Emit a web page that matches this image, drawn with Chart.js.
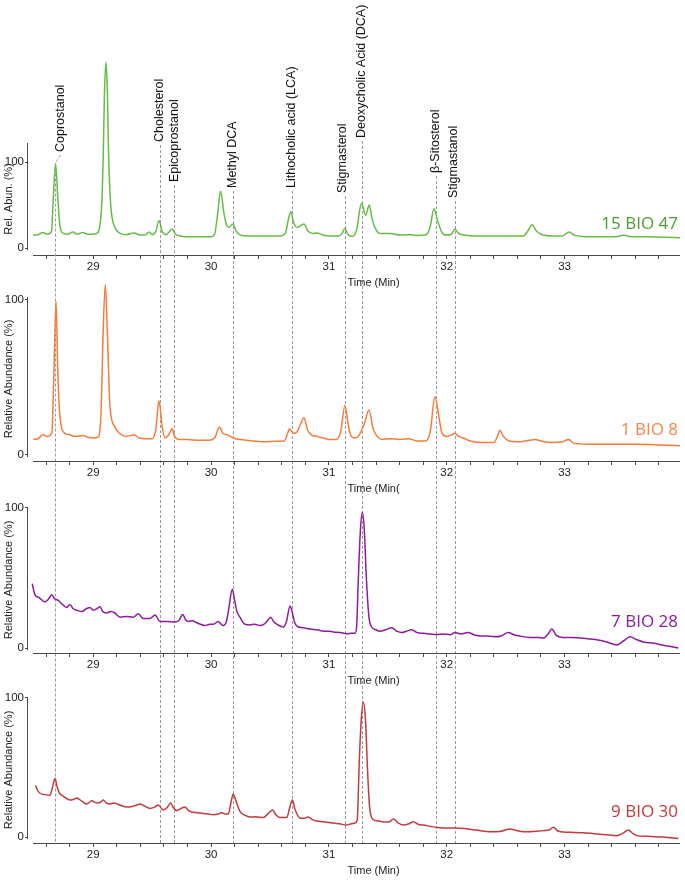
<!DOCTYPE html>
<html><head><meta charset="utf-8">
<script src="https://cdn.jsdelivr.net/npm/chart.js@4.4.0/dist/chart.umd.min.js"></script>
<style>
html,body{margin:0;padding:0;background:#fff;}
#wrap{position:relative;width:685px;height:881px;overflow:hidden;}
#wrap canvas{position:absolute;left:0;top:0;}
</style></head><body>
<div id="wrap">
<canvas id="c1" width="685" height="881"></canvas>
<canvas id="c2" width="685" height="881"></canvas>
<canvas id="c3" width="685" height="881"></canvas>
<canvas id="c4" width="685" height="881"></canvas>
</div>
<script>
// ---------------- DATA ----------------
const xTicks = [28.6,28.8,29.0,29.2,29.4,29.6,29.8,30.0,30.2,30.4,30.6,30.8,31.0,31.2,31.4,31.6,31.8,32.0,32.2,32.4,32.6,32.8,33.0,33.2,33.4,33.6,33.8];
const yTicks = [0, 100];
const compounds = ['Coprostanol','Cholesterol','Epicoprostanol','Methyl DCA','Lithocholic acid (LCA)','Stigmasterol','Deoxycholic Acid (DCA)','β-Sitosterol','Stigmastanol'];
const compoundTimes = [28.678, 29.566, 29.685, 30.186, 30.687, 31.137, 31.281, 31.909, 32.07];
const samples = ['15 BIO 47', '1 BIO 8', '7 BIO 28', '9 BIO 30'];
const yTitles = ['Rel. Abun. (%)', 'Relative Abundance (%)', 'Relative Abundance (%)', 'Relative Abundance (%)'];
const xTitles = ['Time (Min)', 'Time (Min(', 'Time (Min)', 'Time (Min)'];

const time1 = [28.49,28.53,28.573,28.61,28.645,28.66,28.68,28.7,28.715,28.735,28.78,28.828,28.86,28.912,28.95,29.0,29.04,29.06,29.075,29.085,29.095,29.108,29.12,29.13,29.145,29.16,29.18,29.2,29.23,29.28,29.345,29.4,29.44,29.473,29.5,29.53,29.558,29.585,29.62,29.668,29.7,29.74,29.8,29.9,30.0,30.03,30.056,30.08,30.11,30.13,30.15,30.186,30.21,30.25,30.32,30.4,30.5,30.58,30.63,30.66,30.678,30.7,30.73,30.788,30.82,30.86,30.9,30.95,31.0,31.08,31.112,31.136,31.16,31.2,31.24,31.262,31.278,31.312,31.343,31.365,31.39,31.434,31.52,31.6,31.68,31.75,31.82,31.86,31.892,31.92,31.96,32.0,32.04,32.07,32.1,32.15,32.25,32.4,32.55,32.65,32.69,32.724,32.76,32.8,32.9,32.98,33.038,33.08,33.15,33.3,33.45,33.5,33.55,33.7,33.85,33.98];
const abund1 = [15,15.5,18,16,19,56,98,56,28,18,16,18.5,16,18,16,16,18,30,60,110,180,216,180,110,56,35,25,20,17,15.5,17.5,15,15,18.5,15.5,19,32,19,15.5,22,16,14,13,13,13,16,40,66,40,27,24,28,20,15,14,14,14,14,17,36,42,30,24,28,20,17,17.5,15,14,14,17,23,16,13.5,24,45,52,38,50,35,24,17,17,15,15.5,14.5,15,25,46,33,18,15,16,22,17,15,14,14,14,14,20,27,20,16,14,14,18.5,15,13.5,13,13.5,15,13.5,13,12.5,12];

const time2 = [28.49,28.53,28.573,28.61,28.648,28.665,28.684,28.698,28.711,28.73,28.76,28.8,28.85,28.912,28.95,29.0,29.04,29.055,29.068,29.082,29.102,29.12,29.142,29.184,29.22,29.28,29.345,29.39,29.44,29.5,29.53,29.558,29.585,29.61,29.64,29.668,29.69,29.73,29.8,29.9,29.98,30.03,30.072,30.1,30.14,30.186,30.25,30.35,30.45,30.55,30.62,30.65,30.665,30.7,30.73,30.76,30.788,30.82,30.85,30.9,30.95,31.0,31.06,31.1,31.136,31.165,31.19,31.22,31.25,31.3,31.34,31.375,31.41,31.45,31.52,31.6,31.68,31.75,31.82,31.86,31.9,31.935,31.96,32.0,32.03,32.07,32.1,32.14,32.2,32.3,32.4,32.43,32.452,32.48,32.53,32.6,32.7,32.75,32.8,32.9,32.98,33.035,33.08,33.2,33.4,33.6,33.8,33.98];
const abund2 = [10,10.5,13,12,14,50,99,56,31,18,14,13,12,12.5,11.5,11,11.5,15,31,75,110,78,31,18,14,12,13,11,10.5,10.5,16,35,18,11,13,17,12,10,10,9.5,9.5,11,18,14,13,11,10,9,8.5,8.8,9,14,17,14,15,20,24,16,13,12,11,10,10,15,32,19,12,11,12,20,29,17,12,10,10.5,10,10.5,9,9,15,37.5,24,14,12,12.5,14,12,11,9,8,8,12,16,12,9,8.5,9.5,10,9,8,8.5,10,7.5,7,7,7,6.5,6];

const time3 = [28.482,28.495,28.505,28.54,28.59,28.62,28.647,28.675,28.703,28.74,28.774,28.802,28.83,28.86,28.902,28.94,28.972,29.0,29.029,29.057,29.08,29.114,29.15,29.184,29.227,29.28,29.34,29.382,29.424,29.481,29.524,29.566,29.62,29.694,29.73,29.759,29.785,29.807,29.84,29.878,29.91,29.948,29.99,30.02,30.061,30.085,30.104,30.13,30.15,30.18,30.2,30.22,30.245,30.288,30.33,30.37,30.415,30.45,30.474,30.506,30.53,30.557,30.59,30.613,30.64,30.67,30.69,30.71,30.74,30.78,30.84,30.9,30.96,31.0,31.038,31.1,31.165,31.179,31.222,31.235,31.25,31.268,31.284,31.3,31.318,31.34,31.363,31.4,31.434,31.48,31.533,31.575,31.618,31.66,31.703,31.75,31.801,31.86,31.915,31.97,32.028,32.07,32.12,32.183,32.23,32.283,32.35,32.424,32.47,32.523,32.57,32.62,32.707,32.78,32.82,32.86,32.891,32.93,32.99,33.06,33.16,33.26,33.358,33.443,33.5,33.556,33.61,33.669,33.75,33.839,33.9,33.966];
const abund3 = [46,41,38,36,33,35,38,35,34,31,29,31,28,27,26,28,29,27,28,29.5,26,25,26,25,22,22.5,22,24.5,21,21,23.5,19,19,18.5,20,24,20,19,19.5,18,17,16,17,17,19,17,16,19,28,42,34,26,22,17,16.5,17,16,17,19,22,19,17,15.5,15,19,30,25,18,15,14.5,13.5,13,12,12,11.5,11,10,10.5,10.5,15,50,85,97,85,50,22,15,13,12,13,14.5,12,11,12,13,11,10.5,10,9.5,10,9.5,11,10,11,9.5,8.5,8.5,8,9,11,9.5,8.5,7.5,7.5,7,10,13.5,9,7.5,7.5,7,6,4.3,2.2,5,8,6,4.3,3.5,2,1,0];

const time4 = [28.511,28.525,28.548,28.59,28.632,28.652,28.675,28.694,28.711,28.75,28.802,28.83,28.859,28.9,28.944,28.986,29.029,29.06,29.085,29.11,29.142,29.17,29.199,29.24,29.284,29.33,29.37,29.396,29.44,29.481,29.52,29.552,29.594,29.625,29.657,29.68,29.708,29.745,29.778,29.81,29.835,29.88,29.934,29.98,30.019,30.06,30.09,30.12,30.146,30.169,30.188,30.211,30.245,30.29,30.33,30.38,30.443,30.486,30.523,30.55,30.585,30.642,30.67,30.69,30.712,30.755,30.79,30.825,30.86,30.896,30.95,31.0,31.037,31.09,31.151,31.19,31.222,31.24,31.258,31.275,31.292,31.31,31.328,31.345,31.37,31.42,31.476,31.515,31.547,31.59,31.632,31.68,31.716,31.76,31.801,31.87,31.943,32.04,32.141,32.25,32.368,32.45,32.537,32.6,32.65,32.74,32.82,32.87,32.905,32.94,32.99,33.08,33.16,33.3,33.443,33.5,33.542,33.58,33.613,33.7,33.839,33.9,33.966];
const abund4 = [37,34,31.5,30.5,30,35,42,36,32,29,26.6,27,28,26,23.7,26,24.5,25,26.6,24.5,23.7,24.5,24,22.5,21.6,22,23,23.7,22,20.6,21.5,23,19.4,21,24.5,21,19,20.5,21.6,19,18,17.5,17,16.5,16,16.5,17.5,16.5,16.5,25,31,26,18.5,15.5,14.4,14.5,14,17,19.4,16,14,14,22,26.6,20,13.7,13.5,14.4,12.5,11.5,11,10.5,10,9.5,8.6,9.5,10,12,55,85,97,85,48,22,13,11.5,10.8,11,13,10,8.6,9.5,11,9,8.6,7.5,6.7,6.5,6.2,5,3.8,4,5.8,4.5,3.8,4,4.6,5,7,4.5,3.6,3.3,3,2,1,3,5,2.5,1,0.5,0,-0.5,-1];

const seriesTimes = [time1, time2, time3, time4];
const seriesValues = [abund1, abund2, abund3, abund4];

// ---------------- LAYOUT / STYLE ----------------
const X_MIN = 28.446, X_MAX = 33.98;
const panels = [
  {top:143, bottom:255, ymin:-8.14, ymax:122.1, line:'#66bd46', label:'#4c9c31'},
  {top:297, bottom:461, ymin:-3.87, ymax:101.9, line:'#f47d3c', label:'#f5874a'},
  {top:507, bottom:653, ymin:-3.57, ymax:100.7, line:'#8d1c9c', label:'#8d1c9c'},
  {top:697, bottom:843, ymin:-4.3, ymax:100.7, line:'#c43a3c', label:'#c43a3c'}
];
const labelBottom = [152, 142, 182, 188, 188, 193, 138, 173, 198];
const labelDx = [5, 0, 1, 0, 0, -2, 0, 0, -1];
const AXIS = '#4a4a4a';
const FONT = '"Liberation Sans", Arial, sans-serif';

function deco(idx) {
  const P = panels[idx];
  return {
    id: 'deco' + idx,
    beforeDatasetsDraw(chart) {
      const {ctx, chartArea: a, scales: {y}} = chart;
      ctx.save();
      ctx.strokeStyle = AXIS; ctx.lineWidth = 1;
      const yl = Math.round(a.left) - 0.5;
      ctx.beginPath();
      ctx.moveTo(yl, a.top); ctx.lineTo(yl, y.getPixelForValue(0) + 2);
      const xb = Math.round(a.bottom) + 0.5;
      ctx.moveTo(a.left + 5, xb); ctx.lineTo(a.right, xb);
      ctx.stroke();
      ctx.restore();
    },
    afterDraw(chart) {
      const {ctx, chartArea: a} = chart;
      ctx.save();
      ctx.font = '17px "Open Sans", sans-serif';
      ctx.fillStyle = P.label; ctx.textAlign = 'right'; ctx.textBaseline = 'middle';
      ctx.fillText(samples[idx], a.right - 2, a.bottom - 31);
      ctx.font = '11px ' + FONT;
      ctx.fillStyle = '#222'; ctx.textAlign = 'center';
      ctx.fillText(xTitles[idx], a.left + (a.right - a.left) * 0.53, a.bottom + 28);
      ctx.restore();
    }
  };
}

const markers = {
  id: 'markers',
  beforeDatasetsDraw(chart) {
    const {ctx, scales: {x}} = chart;
    const end = panels[3].bottom;
    ctx.save();
    ctx.strokeStyle = '#9a9a9a'; ctx.lineWidth = 1; ctx.setLineDash([3, 2]);
    compoundTimes.forEach((t, i) => {
      const px = Math.round(x.getPixelForValue(t)) + 0.5;
      const y0 = labelBottom[i] + 3;
      ctx.beginPath();
      if (Math.abs(labelDx[i]) > 2) {
        ctx.moveTo(px + labelDx[i], y0); ctx.lineTo(px, y0 + 8); ctx.lineTo(px, end);
      } else {
        ctx.moveTo(px, y0); ctx.lineTo(px, end);
      }
      ctx.stroke();
    });
    ctx.restore();
  },
  afterDraw(chart) {
    const {ctx, scales: {x}} = chart;
    ctx.save();
    ctx.font = '12.5px ' + FONT;
    ctx.fillStyle = '#111'; ctx.textAlign = 'left'; ctx.textBaseline = 'middle';
    compounds.forEach((name, i) => {
      const px = x.getPixelForValue(compoundTimes[i]) + labelDx[i];
      ctx.save();
      ctx.translate(px, labelBottom[i]);
      ctx.rotate(-Math.PI / 2);
      ctx.fillText(name, 0, 0);
      ctx.restore();
    });
    ctx.restore();
  }
};

function makeChart(idx) {
  const P = panels[idx];
  const times = seriesTimes[idx], vals = seriesValues[idx];
  const plugins = [deco(idx)];
  if (idx === 0) plugins.push(markers);
  return new Chart(document.getElementById('c' + (idx + 1)), {
    type: 'line',
    data: {
      datasets: [{
        data: times.map((t, i) => ({x: t, y: vals[i]})),
        borderColor: P.line, borderWidth: 1.5, pointRadius: 0,
        cubicInterpolationMode: 'monotone', clip: false, fill: false
      }]
    },
    options: {
      responsive: false, animation: false, devicePixelRatio: 1,
      elements: {line: {capBezierPoints: false}},
      layout: {padding: {left: 0, right: 5, top: P.top, bottom: 881 - P.bottom - 20}},
      plugins: {legend: {display: false}, tooltip: {enabled: false}},
      scales: {
        x: {
          type: 'linear', min: X_MIN, max: X_MAX,
          afterBuildTicks: s => { s.ticks = xTicks.map(v => ({value: v})); },
          afterFit: s => { s.height = 20; },
          border: {display: false},
          grid: {drawOnChartArea: false, drawTicks: true, tickLength: 4, color: AXIS},
          ticks: {
            autoSkip: false, maxRotation: 0, padding: 1, color: '#222',
            font: {family: FONT, size: 11.5},
            callback: v => Math.abs(v - Math.round(v)) < 1e-6 ? String(Math.round(v)) : ''
          }
        },
        y: {
          type: 'linear', min: P.ymin, max: P.ymax,
          afterBuildTicks: s => { s.ticks = yTicks.map(v => ({value: v})); },
          afterFit: s => { s.width = 28; },
          border: {display: false},
          grid: {drawOnChartArea: false, drawTicks: true, tickLength: 3, color: AXIS},
          ticks: {padding: 1, color: '#222', font: {family: FONT, size: 11.5}},
          title: {display: true, text: yTitles[idx], color: '#222', font: {family: FONT, size: 11}, padding: {top: 2, bottom: 0}}
        }
      }
    },
    plugins: plugins
  });
}
[0, 1, 2, 3].forEach(makeChart);
</script>
</body></html>
